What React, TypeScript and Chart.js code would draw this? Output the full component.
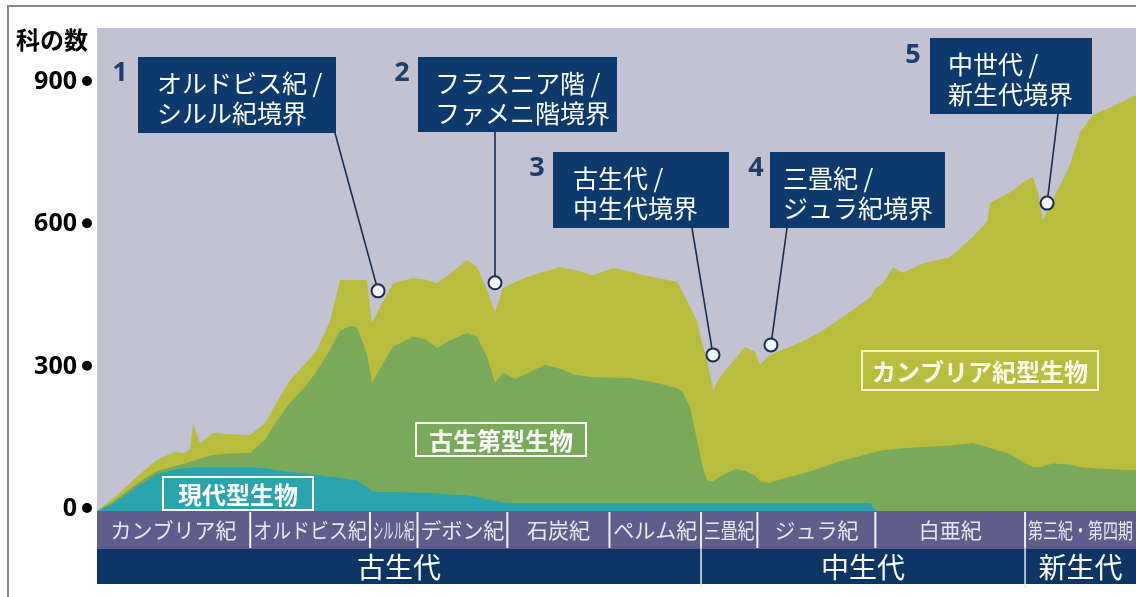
import React, { useEffect, useRef } from 'react';
import { Chart, registerables } from 'chart.js';
Chart.register(...registerables);

// ---- data (time in millions of years ago) ----
const ages = [
  590, 582.6, 575.2, 565.6, 555.9, 545.7, 540.0, 537.2, 535.5, 533.2, 531.5, 524.1, 514.5, 503.1,
  494.6, 487.8, 480.4, 471.9, 465.1, 457.7, 452.0, 446.3, 442.4, 436.7, 433.8, 429.3, 421.9, 410.6,
  403.7, 396.9, 389.5, 379.9, 374.2, 368.5, 364.0, 359.4, 352.6, 345.8, 335.6, 327.1, 318.6, 308.3,
  297.0, 287.3, 279.9, 270.3, 260.6, 257.2, 253.3, 249.3, 245.9, 243.6, 240.2, 237.4, 234.5, 227.7,
  222.0, 216.3, 213.5, 207.8, 196.5, 188.0, 177.7, 168.1, 158.4, 151.0, 147.6, 143.7, 138.0, 132.3,
  120.9, 105.6, 92.6, 84.6, 82.9, 71.5, 63.0, 58.5, 55.6, 52.8, 47.1, 37.5, 31.8, 24.4, 14.8, 0,
];
// 現代型生物 (teal, bottom layer)
const modernFauna = [
  0, 12, 30, 55, 78, 88, 90, 91, 91, 92, 92, 93, 93, 92,
  90, 86, 82, 79, 76, 72, 70, 66, 65, 50, 42, 40, 40, 39,
  38, 37, 35, 33, 30, 25, 22, 18, 17, 17, 17, 17, 17, 17,
  17, 17, 17, 17, 17, 17, 17, 17, 17, 17, 17, 17, 17, 17,
  17, 17, 17, 17, 17, 17, 17, 17, 17, 17, 0, 0, 0, 0,
  0, 0, 0, 0, 0, 0, 0, 0, 0, 0, 0, 0, 0, 0, 0, 0,
];
// 古生第型生物 (green, middle layer)
const paleozoicFauna = [
  0, 4, 6, 7, 6, 7, 10, 13, 15, 16, 18, 25, 28, 30,
  60, 104, 146, 183, 219, 268, 310, 324, 323, 280, 228, 260, 306, 328,
  324, 307, 325, 342, 337, 300, 248, 274, 261, 273, 291, 283, 270, 265,
  264, 263, 258, 251, 242, 233, 202, 133, 73, 48, 45, 53, 59, 71,
  68, 58, 45, 43, 55, 63, 76, 88, 97, 105, 125, 128, 130, 132,
  135, 138, 143, 135, 133, 120, 100, 93, 92, 95, 100, 98, 92, 90, 88, 86,
];
// カンブリア紀型生物 (yellow-green, top layer)
const cambrianFauna = [
  0, 6, 9, 16, 24, 30, 22, 26, 79, 52, 33, 47, 41, 38,
  35, 40, 47, 48, 45, 60, 107, 97, 99, 157, 126, 130, 134, 124,
  126, 136, 140, 154, 147, 141, 149, 178, 204, 203, 197, 214, 221, 215,
  231, 225, 222, 222, 224, 209, 211, 250, 256, 255, 193, 205, 215, 232,
  261, 260, 246, 269, 274, 280, 288, 300, 316, 328, 345, 352, 384, 370,
  387, 397, 435, 475, 516, 552, 595, 611, 578, 517, 556, 632, 705, 745, 762, 791,
];

const yTicks = [0, 300, 600, 900];
const periodNames = ['カンブリア紀', 'オルドビス紀', 'シルル紀', 'デボン紀', '石炭紀', 'ペルム紀', '三畳紀', 'ジュラ紀', '白亜紀', '第三紀・第四期'];
const periodStarts = [590, 503, 435, 408, 357, 299, 247, 215, 148, 63];
const eraNames = ['古生代', '中生代', '新生代'];
const eraStarts = [590, 247, 63];

// extinction events: circle positions (age, families)
const eventAges = [430.4, 364, 240.2, 207.3, 50.5];
const eventValues = [464, 481, 329, 350, 649];
const eventLines = [
  ['オルドビス紀 /', 'シルル紀境界'],
  ['フラスニア階 /', 'ファメニ階境界'],
  ['古生代 /', '中生代境界'],
  ['三畳紀 /', 'ジュラ紀境界'],
  ['中世代 /', '新生代境界'],
];

// ---- layout / style ----
const BOXES = [
  { x: 138, y: 57, w: 198, h: 76, pad: 19, ax: 335, nx: 120, ny: 73 },
  { x: 418, y: 57, w: 199, h: 75, pad: 17, ax: 495, nx: 402, ny: 73 },
  { x: 553, y: 152, w: 176, h: 76, pad: 20, ax: 692, nx: 537, ny: 168 },
  { x: 770, y: 152, w: 175, h: 76, pad: 13, ax: 787, nx: 756, ny: 168 },
  { x: 930, y: 38, w: 162, h: 76, pad: 18, ax: 1058, nx: 913, ny: 55 },
];
const JP = '"Noto Sans CJK JP", "Noto Sans", sans-serif';
const C = {
  bg: '#c3c2d2',
  teal: '#2ba4ae',
  green: '#78aa5a',
  yellow: '#b8bd3e',
  period: '#5e5d8b',
  era: '#0c3565',
  box: '#0d3a6c',
  num: '#1d3d6c',
  leader: '#1a2c50',
};

const decor = {
  id: 'decor',
  beforeDraw(chart: any) {
    const { ctx, chartArea: a } = chart;
    ctx.save();
    ctx.fillStyle = '#ffffff';
    ctx.fillRect(0, 0, chart.width, chart.height);
    ctx.fillStyle = C.bg;
    ctx.fillRect(a.left, a.top, a.right - a.left, a.bottom - a.top);
    ctx.restore();
  },
  afterDraw(chart: any) {
    const { ctx, chartArea: a } = chart;
    const xs = chart.scales.x;
    const ys = chart.scales.y;
    ctx.save();

    // outer frame
    ctx.strokeStyle = '#8a8a8a';
    ctx.lineWidth = 2;
    ctx.beginPath();
    ctx.moveTo(8, chart.height);
    ctx.lineTo(8, 6);
    ctx.lineTo(chart.width, 6);
    ctx.stroke();

    // period and era bars
    const pTop = a.bottom, pBot = a.bottom + 38, eBot = a.bottom + 73;
    ctx.fillStyle = C.period;
    ctx.fillRect(a.left, pTop, a.right - a.left, pBot - pTop);
    ctx.fillStyle = C.era;
    ctx.fillRect(a.left, pBot, a.right - a.left, eBot - pBot);

    ctx.textAlign = 'center';
    ctx.textBaseline = 'middle';
    for (let i = 0; i < periodNames.length; i++) {
      const x0 = xs.getPixelForValue(periodStarts[i]);
      const x1 = xs.getPixelForValue(i + 1 < periodStarts.length ? periodStarts[i + 1] : 0);
      if (i > 0) {
        ctx.strokeStyle = '#f2f2f8';
        ctx.lineWidth = 2;
        ctx.beginPath();
        ctx.moveTo(x0, pTop + 1);
        ctx.lineTo(x0, pBot - 1);
        ctx.stroke();
      }
      ctx.fillStyle = '#e8e8f2';
      ctx.font = `21px ${JP}`;
      ctx.fillText(periodNames[i], (x0 + x1) / 2, pTop + 19, x1 - x0 - 6);
    }
    for (let i = 0; i < eraNames.length; i++) {
      const x0 = xs.getPixelForValue(eraStarts[i]);
      const x1 = xs.getPixelForValue(i + 1 < eraStarts.length ? eraStarts[i + 1] : 0);
      if (i > 0) {
        ctx.strokeStyle = '#e6e6ee';
        ctx.lineWidth = 1.5;
        ctx.beginPath();
        ctx.moveTo(x0, pTop + 1);
        ctx.lineTo(x0, eBot + 4);
        ctx.stroke();
      }
      ctx.fillStyle = '#ffffff';
      ctx.font = `28px ${JP}`;
      ctx.fillText(eraNames[i], (x0 + x1) / 2, pBot + 18, x1 - x0 - 6);
    }

    // y axis title and ticks
    ctx.fillStyle = '#000000';
    ctx.textAlign = 'left';
    ctx.font = `bold 24px ${JP}`;
    ctx.fillText('科の数', 16, 40);
    ctx.textAlign = 'right';
    ctx.font = 'bold 25px "Open Sans", sans-serif';
    for (const v of yTicks) {
      const y = ys.getPixelForValue(v) - 3;
      ctx.fillText(String(v), 77, y + 1);
      ctx.beginPath();
      ctx.arc(87, y, 5, 0, Math.PI * 2);
      ctx.fill();
    }

    // fauna labels
    const label = (t: string, x: number, y: number, w: number, h: number, border: string, color: string) => {
      ctx.strokeStyle = border;
      ctx.lineWidth = 2;
      ctx.strokeRect(x, y, w, h);
      ctx.fillStyle = color;
      ctx.textAlign = 'center';
      ctx.font = `bold 24px ${JP}`;
      ctx.fillText(t, x + w / 2, y + h / 2 + 1);
    };
    label('現代型生物', 163, 477, 150, 33, '#ffffff', '#ffffff');
    label('古生第型生物', 416, 423, 170, 33, '#ffffff', '#ffffff');
    label('カンブリア紀型生物', 862, 351, 236, 39, '#f4f1c2', '#fbfbea');

    // event annotations
    for (let i = 0; i < BOXES.length; i++) {
      const b = BOXES[i];
      const cx = xs.getPixelForValue(eventAges[i]);
      const cy = ys.getPixelForValue(eventValues[i]);
      ctx.strokeStyle = C.leader;
      ctx.lineWidth = 1.6;
      ctx.beginPath();
      ctx.moveTo(b.ax, b.y + b.h);
      ctx.lineTo(cx, cy);
      ctx.stroke();
      ctx.fillStyle = C.box;
      ctx.fillRect(b.x, b.y, b.w, b.h);
      ctx.fillStyle = '#ffffff';
      ctx.textAlign = 'left';
      ctx.font = `25px ${JP}`;
      ctx.fillText(eventLines[i][0], b.x + b.pad, b.y + 26);
      ctx.fillText(eventLines[i][1], b.x + b.pad, b.y + 56);
      ctx.fillStyle = C.num;
      ctx.textAlign = 'center';
      ctx.font = 'bold 27px "Open Sans", sans-serif';
      ctx.fillText(String(i + 1), b.nx, b.ny);
      ctx.beginPath();
      ctx.arc(cx, cy, 6.5, 0, Math.PI * 2);
      ctx.fillStyle = '#f4f6fb';
      ctx.fill();
      ctx.lineWidth = 2;
      ctx.strokeStyle = C.leader;
      ctx.stroke();
    }
    ctx.restore();
  },
};

export default function App() {
  const ref = useRef<HTMLCanvasElement>(null);
  useEffect(() => {
    const canvas = ref.current!;
    const mk = (vals: number[]) => ages.map((x, i) => ({ x, y: vals[i] }));
    const chart = new Chart(canvas, {
      type: 'line',
      data: {
        datasets: [
          { label: '現代型生物', data: mk(modernFauna), backgroundColor: C.teal, borderWidth: 0, pointRadius: 0, fill: 'origin', tension: 0 },
          { label: '古生第型生物', data: mk(paleozoicFauna), backgroundColor: C.green, borderWidth: 0, pointRadius: 0, fill: 'origin', tension: 0 },
          { label: 'カンブリア紀型生物', data: mk(cambrianFauna), backgroundColor: C.yellow, borderWidth: 0, pointRadius: 0, fill: 'origin', tension: 0 },
        ],
      },
      options: {
        responsive: false,
        animation: false,
        devicePixelRatio: 1,
        events: [],
        layout: { padding: { left: 97, top: 28, right: 0, bottom: 86 } },
        plugins: { legend: { display: false }, tooltip: { enabled: false } },
        scales: {
          x: { type: 'linear', min: 0, max: 590, reverse: true, display: false },
          y: { type: 'linear', stacked: true, min: 0, max: 1018, display: false },
        },
      },
      plugins: [decor],
    } as any);
    return () => chart.destroy();
  }, []);
  return (
    <div style={{ position: 'fixed', left: 0, top: 0, width: 1136, height: 597, background: '#fff' }}>
      <canvas ref={ref} width={1136} height={597} style={{ display: 'block', width: 1136, height: 597 }} />
    </div>
  );
}
